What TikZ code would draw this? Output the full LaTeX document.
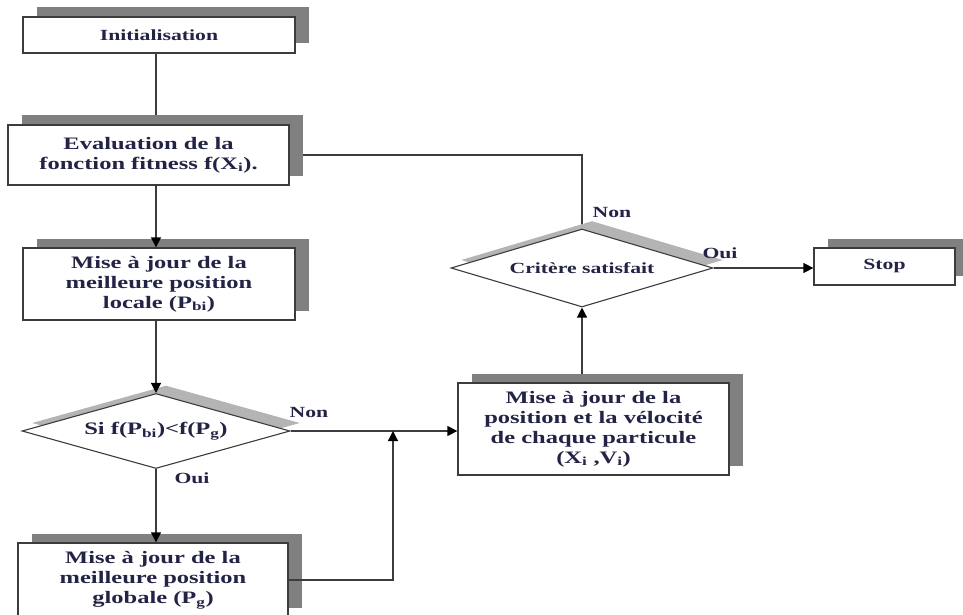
\documentclass[tikz,border=0pt]{standalone}
\usepackage{fontspec}
\setmainfont[FakeStretch=1.4]{Liberation Serif}
\usetikzlibrary{shapes.geometric,shadows,arrows.meta,backgrounds}
\definecolor{ink}{RGB}{35,35,70}
\definecolor{edge}{RGB}{60,60,60}
\definecolor{shade}{RGB}{128,128,128}
\definecolor{shadelight}{RGB}{180,180,180}
\newcommand\bigtxt{\fontsize{17.5}{20}\selectfont\bfseries}
\newcommand\smalltxt{\fontsize{15.5}{18}\selectfont\bfseries}
\begin{document}
\begin{tikzpicture}[x=1pt,y=-1pt,
  box/.style={draw=edge, line width=1.3pt, fill=white, inner sep=0pt,
    align=center, text=ink, font=\bigtxt,
    drop shadow={shadow xshift=14pt, shadow yshift=9.5pt, fill=shade, opacity=1}},
  test/.style={diamond, draw=edge, line width=1.1pt, fill=white, inner sep=0pt,
    aspect=3.5, align=center, text=ink,
    drop shadow={shadow xshift=10pt, shadow yshift=8pt, fill=shadelight, opacity=1}},
  link/.style={draw=edge, line width=1.3pt},
  arr/.style={link, -{Triangle[length=10pt,width=10pt,color=black]}},
  lbl/.style={text=ink, font=\smalltxt, inner sep=0pt}]
\useasboundingbox (0,0) rectangle (963,615);

% process boxes
\node[box, font=\smalltxt, minimum width=272pt, minimum height=36pt] (init) at (159,35) {Initialisation};
\node[box, minimum width=281pt, minimum height=60pt] (eval) at (148.5,155)
  {Evaluation de la\\fonction fitness f(X\textsubscript{i}).};
\node[box, minimum width=272pt, minimum height=72pt] (loc) at (159,284)
  {Mise à jour de la\\meilleure position\\locale (P\textsubscript{bi})};
\node[box, minimum width=270pt, minimum height=74pt] (glob) at (153,580)
  {Mise à jour de la\\meilleure position\\globale (P\textsubscript{g})};
\node[box, minimum width=271pt, minimum height=92pt] (pos) at (593.5,429)
  {Mise à jour de la\\position et la vélocité\\de chaque particule\\(X\textsubscript{i} ,V\textsubscript{i})};
\node[box, font=\smalltxt, minimum width=141pt, minimum height=37pt] (stop) at (884.5,266.5) {Stop};

% decisions
\node[test, font=\bigtxt, minimum width=268pt, minimum height=75pt] (d1) at (156,431)
  {Si f(P\textsubscript{bi})<f(P\textsubscript{g})};
\node[test, font=\smalltxt, minimum width=262pt, minimum height=78pt] (d2) at (582,268)
  {Critère satisfait};

% branch labels
\node[lbl] (non1) at (309,412) {Non};
\node[lbl] (oui1) at (192,478) {Oui};
\node[lbl] (non2) at (612,212) {Non};
\node[lbl] (oui2) at (720,253) {Oui};

% merge point of the two paths into the update box
\coordinate (m) at (393,431);

% connectors hidden behind the shadows
\begin{pgfonlayer}{background}
  \draw[link] (init.south -| d1.north) -- (eval.north -| d1.north);
  \draw[link] (eval.east) -| (d2.north);
  \draw[arr] (pos.north -| d2.south) -- (d2.south);
\end{pgfonlayer}

% connectors on top
\draw[arr] (eval.south -| d1.north) -- (loc.north -| d1.north);
\draw[arr] (loc.south -| d1.north) -- (d1.north);
\draw[arr] (d1.south) -- (glob.north -| d1.south);
\draw[arr] (d1.east) -- (d1.east -| pos.west);
\draw[arr] (glob.east) -| (m);
\draw[arr] (d2.east) -- (d2.east -| stop.west);
\end{tikzpicture}
\end{document}
